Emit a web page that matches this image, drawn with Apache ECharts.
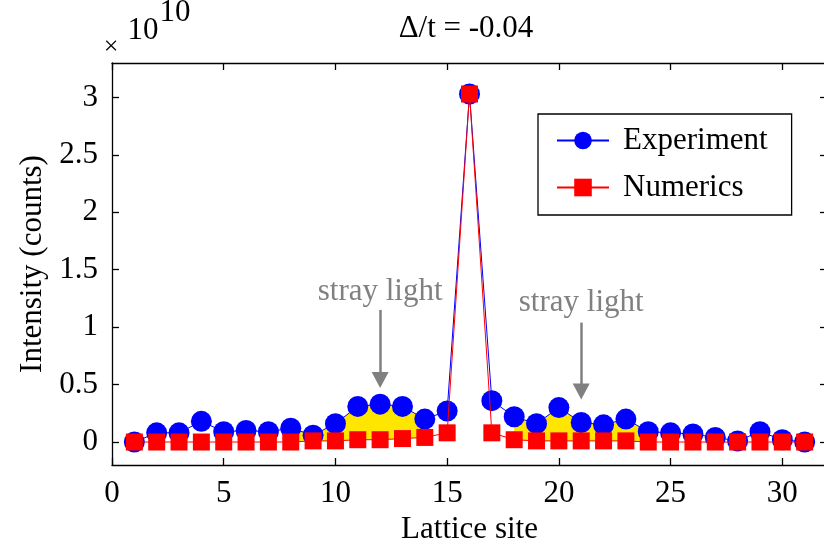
<!DOCTYPE html>
<html>
<head>
<meta charset="utf-8">
<script src="https://cdn.jsdelivr.net/npm/echarts@6/dist/echarts.min.js"></script>
<style>
html,body{margin:0;padding:0;background:#fff;}
#chart{width:824px;height:551px;}
</style>
</head>
<body>
<div id="chart"></div>
<script>
// ---- data ----
const sites = [1,2,3,4,5,6,7,8,9,10,11,12,13,14,15,16,17,18,19,20,21,22,23,24,25,26,27,28,29,30,31];
const experiment = [0.00,0.08,0.08,0.18,0.09,0.10,0.09,0.12,0.06,0.16,0.31,0.33,0.31,0.20,0.27,3.03,0.36,0.22,0.16,0.30,0.17,0.15,0.20,0.09,0.08,0.07,0.04,0.01,0.09,0.02,0.00];
const numerics   = [0.00,0.00,0.00,0.00,0.00,0.00,0.00,0.00,0.01,0.01,0.02,0.02,0.03,0.04,0.08,3.03,0.08,0.02,0.01,0.01,0.01,0.01,0.01,0.00,0.00,0.00,0.00,0.00,0.00,0.00,0.00];
const xTicks = [0,5,10,15,20,25,30];
const yTicks = [0,0.5,1,1.5,2,2.5,3];
const fillRanges = [[8,14],[18,24]];
const straySites = [12,21];
const strayLabel = 'stray light';
const titleText = 'Δ/t = -0.04';

const FONT = 'Liberation Serif';
const FS = 31;
const chart = echarts.init(document.getElementById('chart'), null, {renderer:'canvas'});

const pair = arr => sites.map((s,i)=>[s, arr[i]]);

const option = {
  animation:false,
  backgroundColor:'#fff',
  graphic:[
    {type:'text', x:466, y:29, style:{text:titleText, font:FS+'px "Liberation Serif"', fill:'#000', align:'center', verticalAlign:'middle'}},
    {type:'text', x:111, y:47, style:{text:'×', font:'26px "Liberation Serif"', fill:'#000', align:'center', verticalAlign:'middle'}},
    {type:'text', x:143, y:31, style:{text:'10', font:FS+'px "Liberation Serif"', fill:'#000', align:'center', verticalAlign:'middle'}},
    {type:'text', x:175, y:13, style:{text:'10', font:FS+'px "Liberation Serif"', fill:'#000', align:'center', verticalAlign:'middle'}}
  ],
  legend:{
    data:['Experiment','Numerics'],
    orient:'vertical',
    left:538, top:114,
    padding:[11,24,12,18],
    itemGap:16,
    itemWidth:52, itemHeight:22,
    borderColor:'#000', borderWidth:1.3,
    backgroundColor:'#fff',
    textStyle:{fontFamily:FONT, fontSize:FS, color:'#000', padding:[0,0,0,9]},
    selectedMode:false
  },
  grid:{left:112, top:63, width:715, height:402, outerBoundsMode:'none', containLabel:false},
  xAxis:[
    {type:'value', min:0, max:32, position:'bottom',
     name:'Lattice site', nameLocation:'middle', nameGap:40,
     nameTextStyle:{fontFamily:FONT, fontSize:FS, color:'#000'},
     axisLine:{show:true, onZero:false, lineStyle:{color:'#000', width:1.3}},
     axisTick:{show:true, inside:true, length:7, customValues:xTicks, lineStyle:{color:'#000', width:1.3}},
     axisLabel:{show:true, customValues:xTicks, margin:13, fontFamily:FONT, fontSize:FS, color:'#000'},
     splitLine:{show:false}},
    {type:'value', min:0, max:32, position:'top',
     axisLine:{show:true, onZero:false, lineStyle:{color:'#000', width:1.3}},
     axisTick:{show:true, inside:true, length:7, customValues:xTicks, lineStyle:{color:'#000', width:1.3}},
     axisLabel:{show:false}, splitLine:{show:false}}
  ],
  yAxis:[
    {type:'value', min:-0.2, max:3.3, position:'left',
     name:'Intensity (counts)', nameLocation:'middle', nameGap:64,
     nameTextStyle:{fontFamily:FONT, fontSize:FS, color:'#000'},
     axisLine:{show:true, onZero:false, lineStyle:{color:'#000', width:1.3}},
     axisTick:{show:true, inside:true, length:7, customValues:yTicks, lineStyle:{color:'#000', width:1.3}},
     axisLabel:{show:true, customValues:yTicks, margin:14, fontFamily:FONT, fontSize:FS, color:'#000'},
     splitLine:{show:false}},
    {type:'value', min:-0.2, max:3.3, position:'right',
     axisLine:{show:true, onZero:false, lineStyle:{color:'#000', width:1.3}},
     axisTick:{show:true, inside:true, length:7, customValues:yTicks, lineStyle:{color:'#000', width:1.3}},
     axisLabel:{show:false}, splitLine:{show:false}}
  ],
  series:[
    {
      type:'custom', name:'fill', z:1, silent:true,
      data:fillRanges,
      encode:{x:0, y:1},
      renderItem:function(params, api){
        const r = fillRanges[params.dataIndex];
        const pts = [];
        for (let s=r[0]; s<=r[1]; s++) pts.push(api.coord([s, experiment[s-1]]));
        for (let s=r[1]; s>=r[0]; s--) pts.push(api.coord([s, numerics[s-1]]));
        return {type:'polygon', shape:{points:pts}, style:{fill:'#ffe600'}};
      }
    },
    {
      name:'Experiment', type:'line', z:3, data:pair(experiment),
      symbol:'circle', symbolSize:21,
      itemStyle:{color:'#0000ff'},
      lineStyle:{color:'#0000ff', width:1}
    },
    {
      name:'Numerics', type:'line', z:4, data:pair(numerics),
      symbol:'rect', symbolSize:17,
      itemStyle:{color:'#ff0000'},
      lineStyle:{color:'#ff0000', width:1}
    },
    {
      name:'annot', type:'line', z:5, data:[], silent:true,
      markLine:{
        silent:true, symbol:['none','none'],
        lineStyle:{color:'#808080', width:2.5, type:'solid'},
        label:{show:false},
        data:[
          [{coord:[straySites[0],1.15]},{coord:[straySites[0],0.58]}],
          [{coord:[straySites[1],1.04]},{coord:[straySites[1],0.48]}]
        ]
      },
      markPoint:{
        silent:true,
        data:[
          {coord:[straySites[0],1.31], symbol:'circle', symbolSize:1, itemStyle:{color:'rgba(0,0,0,0)'},
           label:{show:true, position:'inside', formatter:strayLabel, fontFamily:FONT, fontSize:FS, color:'#808080'}},
          {coord:[straySites[1],1.21], symbol:'circle', symbolSize:1, itemStyle:{color:'rgba(0,0,0,0)'},
           label:{show:true, position:'inside', formatter:strayLabel, fontFamily:FONT, fontSize:FS, color:'#808080'}},
          {coord:[straySites[0],0.54], symbol:'triangle', symbolSize:[17,16], symbolRotate:180, itemStyle:{color:'#808080'}, label:{show:false}},
          {coord:[straySites[1],0.44], symbol:'triangle', symbolSize:[17,16], symbolRotate:180, itemStyle:{color:'#808080'}, label:{show:false}}
        ]
      }
    }
  ]
};
chart.setOption(option);
</script>
</body>
</html>
